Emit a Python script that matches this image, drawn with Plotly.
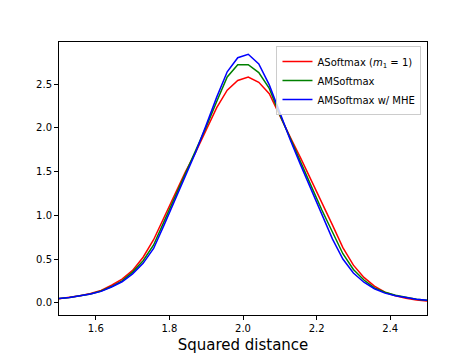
import plotly.graph_objects as go

# ── Data ──────────────────────────────────────────────────────────────────────
squared_distance = [
    1.5, 1.5286, 1.5571, 1.5857, 1.6143, 1.6429, 1.6714, 1.7, 1.7286, 1.7571,
    1.7857, 1.8143, 1.8429, 1.8714, 1.9, 1.9286, 1.9571, 1.9857, 2.0143, 2.0429,
    2.0714, 2.1, 2.1286, 2.1571, 2.1857, 2.2143, 2.2429, 2.2714, 2.3, 2.3286,
    2.3571, 2.3857, 2.4143, 2.4429, 2.4714, 2.5,
]
asoftmax = [
    0.045, 0.06, 0.08, 0.105, 0.14, 0.20, 0.27, 0.37, 0.52, 0.72,
    0.98, 1.24, 1.49, 1.72, 1.97, 2.23, 2.43, 2.54, 2.58, 2.52,
    2.39, 2.13, 1.89, 1.65, 1.40, 1.15, 0.89, 0.63, 0.43, 0.29,
    0.19, 0.12, 0.08, 0.05, 0.03, 0.02,
]
amsoftmax = [
    0.05, 0.06, 0.08, 0.10, 0.135, 0.185, 0.25, 0.35, 0.48, 0.66,
    0.93, 1.20, 1.46, 1.72, 2.01, 2.30, 2.58, 2.72, 2.72, 2.63,
    2.45, 2.15, 1.87, 1.60, 1.33, 1.06, 0.80, 0.56, 0.38, 0.26,
    0.17, 0.12, 0.085, 0.06, 0.04, 0.03,
]
amsoftmax_mhe = [
    0.05, 0.06, 0.08, 0.10, 0.13, 0.18, 0.24, 0.33, 0.45, 0.62,
    0.89, 1.17, 1.44, 1.72, 2.03, 2.35, 2.64, 2.80, 2.84, 2.73,
    2.49, 2.17, 1.86, 1.57, 1.29, 1.01, 0.73, 0.50, 0.34, 0.235,
    0.16, 0.11, 0.08, 0.06, 0.04, 0.03,
]

x_ticks = [1.6, 1.8, 2.0, 2.2, 2.4]
y_ticks = [0.0, 0.5, 1.0, 1.5, 2.0, 2.5]

FONT = "DejaVu Sans, sans-serif"

fig = go.Figure()

series = [
    ("ASoftmax (<i>m</i><sub>1</sub> = 1)", asoftmax, "#ff0000"),
    ("AMSoftmax", amsoftmax, "#008000"),
    ("AMSoftmax w/ MHE", amsoftmax_mhe, "#0000ff"),
]
for name, values, color in series:
    fig.add_trace(go.Scatter(
        x=squared_distance,
        y=values,
        mode="lines",
        name=name,
        line=dict(color=color, width=1.5),
    ))

axis_common = dict(
    showline=True,
    linecolor="black",
    linewidth=1,
    mirror=True,
    showgrid=False,
    zeroline=False,
    automargin=False,
    ticks="outside",
    ticklen=4,
    tickwidth=1,
    tickcolor="black",
    tickformat=".1f",
    tickfont=dict(size=10, color="black", family=FONT),
)

# the page body keeps an 8px margin, so the figure is offset by 8px
fig.update_layout(
    width=466,
    height=346,
    paper_bgcolor="white",
    plot_bgcolor="white",
    margin=dict(l=51, r=47, t=34, b=39),
    font=dict(family=FONT, color="black"),
    xaxis=dict(
        range=[1.5, 2.5],
        tickvals=x_ticks,
        title=dict(text="Squared distance", font=dict(size=15), standoff=7),
        **axis_common,
    ),
    yaxis=dict(
        range=[-0.14, 2.98],
        tickvals=y_ticks,
        **axis_common,
    ),
    legend=dict(
        x=0.985,
        y=0.985,
        xanchor="right",
        yanchor="top",
        bgcolor="rgba(255,255,255,0.8)",
        bordercolor="#cccccc",
        borderwidth=1,
        font=dict(size=10, family=FONT),
        tracegroupgap=0,
    ),
    showlegend=True,
)

fig.write_html("out.html")
